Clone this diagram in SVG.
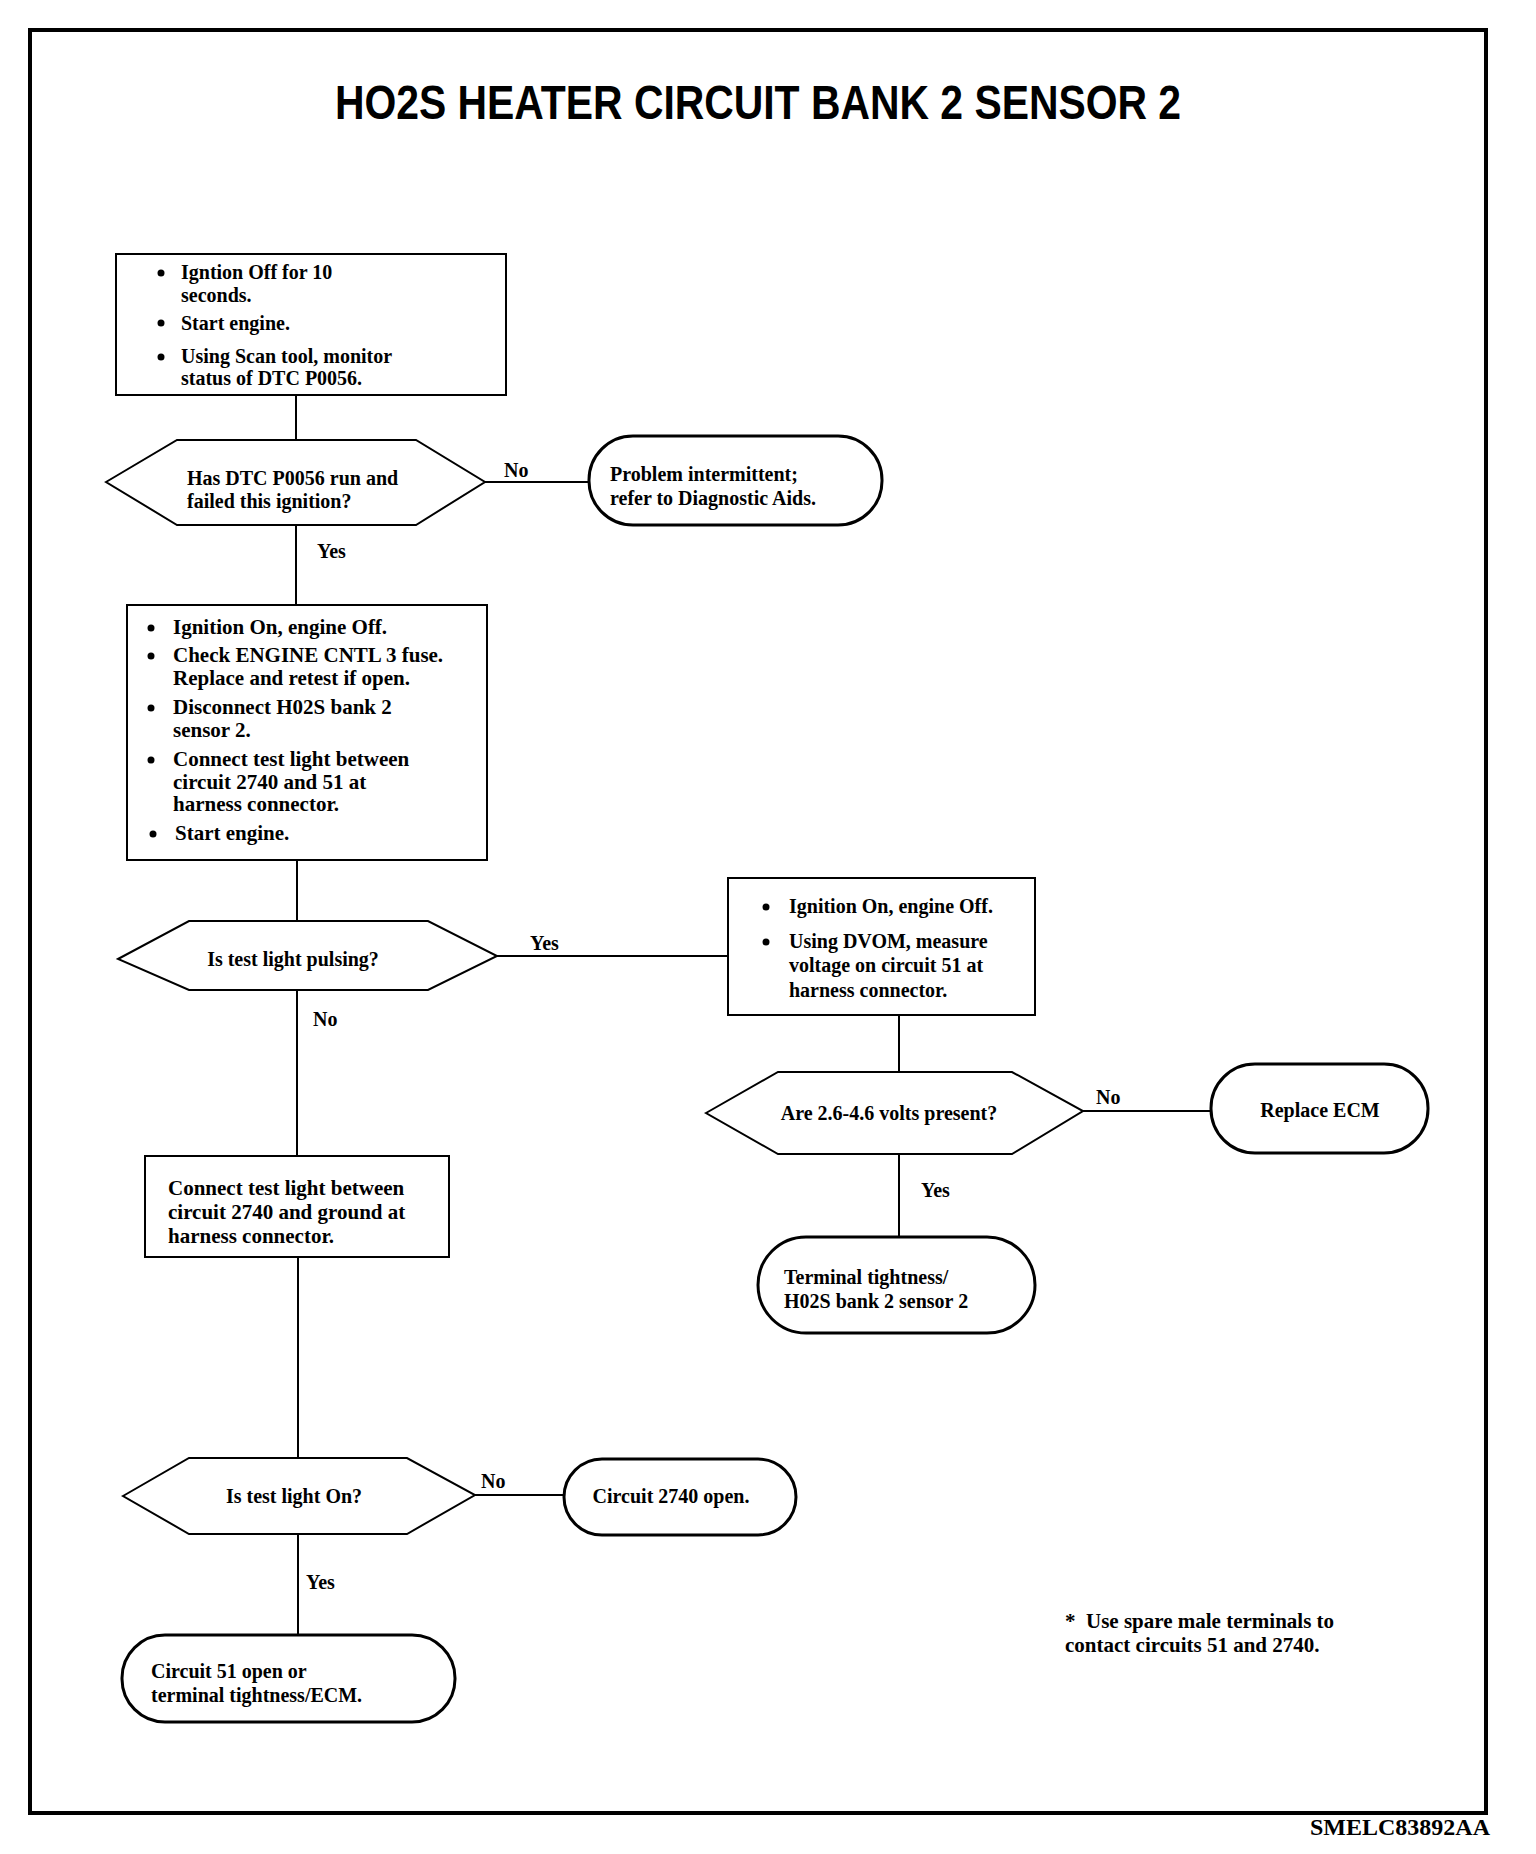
<svg xmlns="http://www.w3.org/2000/svg" width="1536" height="1854" viewBox="0 0 1536 1854">
<style>
.t{font-family:"Liberation Serif","Times New Roman",serif;font-size:20px;font-weight:bold;fill:#000}
.w{font-size:21px}
.box{fill:#fff;stroke:#000;stroke-width:2}
.term{fill:#fff;stroke:#000;stroke-width:3}
.dec{fill:#fff;stroke:#000;stroke-width:2}
.c{stroke:#000;stroke-width:2;fill:none}
</style>
<rect width="1536" height="1854" fill="#fff"/>
<rect x="30" y="30" width="1456" height="1783" fill="none" stroke="#000" stroke-width="4"/>
<text x="758" y="119" text-anchor="middle" font-family="'Liberation Sans',Arial,sans-serif" font-size="48" font-weight="bold" textLength="846" lengthAdjust="spacingAndGlyphs">HO2S HEATER CIRCUIT BANK 2 SENSOR 2</text>
<text x="1490" y="1835" text-anchor="end" font-family="'Liberation Serif','Times New Roman',serif" font-size="24" font-weight="bold">SMELC83892AA</text>

<g id="connectors">
<line class="c" x1="296" y1="395" x2="296" y2="440"/>
<line class="c" x1="485" y1="482" x2="589" y2="482"/>
<line class="c" x1="296" y1="525" x2="296" y2="605"/>
<line class="c" x1="297" y1="860" x2="297" y2="921"/>
<line class="c" x1="497" y1="956" x2="728" y2="956"/>
<line class="c" x1="899" y1="1015" x2="899" y2="1072"/>
<line class="c" x1="1083" y1="1111" x2="1211" y2="1111"/>
<line class="c" x1="899" y1="1154" x2="899" y2="1237"/>
<line class="c" x1="297" y1="990" x2="297" y2="1156"/>
<line class="c" x1="298" y1="1257" x2="298" y2="1458"/>
<line class="c" x1="475" y1="1495" x2="565" y2="1495"/>
<line class="c" x1="298" y1="1534" x2="298" y2="1635"/>
<text class="t" x="504" y="477">No</text>
<text class="t" x="317" y="558">Yes</text>
<text class="t" x="530" y="950">Yes</text>
<text class="t" x="313" y="1026">No</text>
<text class="t" x="1096" y="1104">No</text>
<text class="t" x="921" y="1197">Yes</text>
<text class="t" x="481" y="1488">No</text>
<text class="t" x="306" y="1589">Yes</text>
</g>

<g id="box1">
<rect class="box" x="116" y="254" width="390" height="141"/>
<circle cx="161" cy="273" r="3.5"/><circle cx="161" cy="323" r="3.5"/><circle cx="161" cy="357" r="3.5"/>
<text class="t" x="181" y="279">Igntion Off for 10</text>
<text class="t" x="181" y="302">seconds.</text>
<text class="t" x="181" y="330">Start engine.</text>
<text class="t" x="181" y="363">Using Scan tool, monitor</text>
<text class="t" x="181" y="385">status of DTC P0056.</text>
</g>

<g id="dec1">
<polygon class="dec" points="106,482 177,440 416,440 485,482 416,525 177,525"/>
<text class="t" x="187" y="485">Has DTC P0056 run and</text>
<text class="t" x="187" y="508">failed this ignition?</text>
</g>

<g id="term1">
<rect class="term" x="589" y="436" width="293" height="89" rx="44"/>
<text class="t" x="610" y="481">Problem intermittent;</text>
<text class="t" x="610" y="505">refer to Diagnostic Aids.</text>
</g>

<g id="box2">
<rect class="box" x="127" y="605" width="360" height="255"/>
<circle cx="151" cy="628" r="3.5"/><circle cx="151" cy="656" r="3.5"/><circle cx="151" cy="708" r="3.5"/><circle cx="151" cy="760" r="3.5"/><circle cx="153" cy="834" r="3.5"/>
<text class="t w" x="173" y="634">Ignition On, engine Off.</text>
<text class="t w" x="173" y="662">Check ENGINE CNTL 3 fuse.</text>
<text class="t w" x="173" y="685">Replace and retest if open.</text>
<text class="t w" x="173" y="714">Disconnect H02S bank 2</text>
<text class="t w" x="173" y="737">sensor 2.</text>
<text class="t w" x="173" y="766">Connect test light between</text>
<text class="t w" x="173" y="789">circuit 2740 and 51 at</text>
<text class="t w" x="173" y="811">harness connector.</text>
<text class="t w" x="175" y="840">Start engine.</text>
</g>

<g id="dec2">
<polygon class="dec" points="118,959 189,921 428,921 497,956 428,990 189,990"/>
<text class="t" x="293" y="966" text-anchor="middle">Is test light pulsing?</text>
</g>

<g id="box3">
<rect class="box" x="728" y="878" width="307" height="137"/>
<circle cx="766" cy="907" r="3.5"/><circle cx="766" cy="942" r="3.5"/>
<text class="t" x="789" y="913">Ignition On, engine Off.</text>
<text class="t" x="789" y="948">Using DVOM, measure</text>
<text class="t" x="789" y="972">voltage on circuit 51 at</text>
<text class="t" x="789" y="997">harness connector.</text>
</g>

<g id="dec3">
<polygon class="dec" points="706,1113 778,1072 1012,1072 1083,1111 1012,1154 778,1154"/>
<text class="t" x="889" y="1120" text-anchor="middle">Are 2.6-4.6 volts present?</text>
</g>

<g id="term2">
<rect class="term" x="1211" y="1064" width="217" height="89" rx="44"/>
<text class="t" x="1320" y="1117" text-anchor="middle">Replace ECM</text>
</g>

<g id="term3">
<rect class="term" x="758" y="1237" width="277" height="96" rx="48"/>
<text class="t" x="784" y="1284">Terminal tightness/</text>
<text class="t" x="784" y="1308">H02S bank 2 sensor 2</text>
</g>

<g id="box4">
<rect class="box" x="145" y="1156" width="304" height="101"/>
<text class="t w" x="168" y="1195">Connect test light between</text>
<text class="t w" x="168" y="1219">circuit 2740 and ground at</text>
<text class="t w" x="168" y="1243">harness connector.</text>
</g>

<g id="dec4">
<polygon class="dec" points="123,1496 189,1458 407,1458 475,1495 407,1534 189,1534"/>
<text class="t" x="294" y="1503" text-anchor="middle">Is test light On?</text>
</g>

<g id="term4">
<rect class="term" x="564" y="1459" width="232" height="76" rx="38"/>
<text class="t" x="671" y="1503" text-anchor="middle">Circuit 2740 open.</text>
</g>

<g id="term5">
<rect class="term" x="122" y="1635" width="333" height="87" rx="43"/>
<text class="t" x="151" y="1678">Circuit 51 open or</text>
<text class="t" x="151" y="1702">terminal tightness/ECM.</text>
</g>

<g id="note">
<text class="t w" x="1065" y="1628" xml:space="preserve">*  Use spare male terminals to</text>
<text class="t w" x="1065" y="1652">contact circuits 51 and 2740.</text>
</g>
</svg>
